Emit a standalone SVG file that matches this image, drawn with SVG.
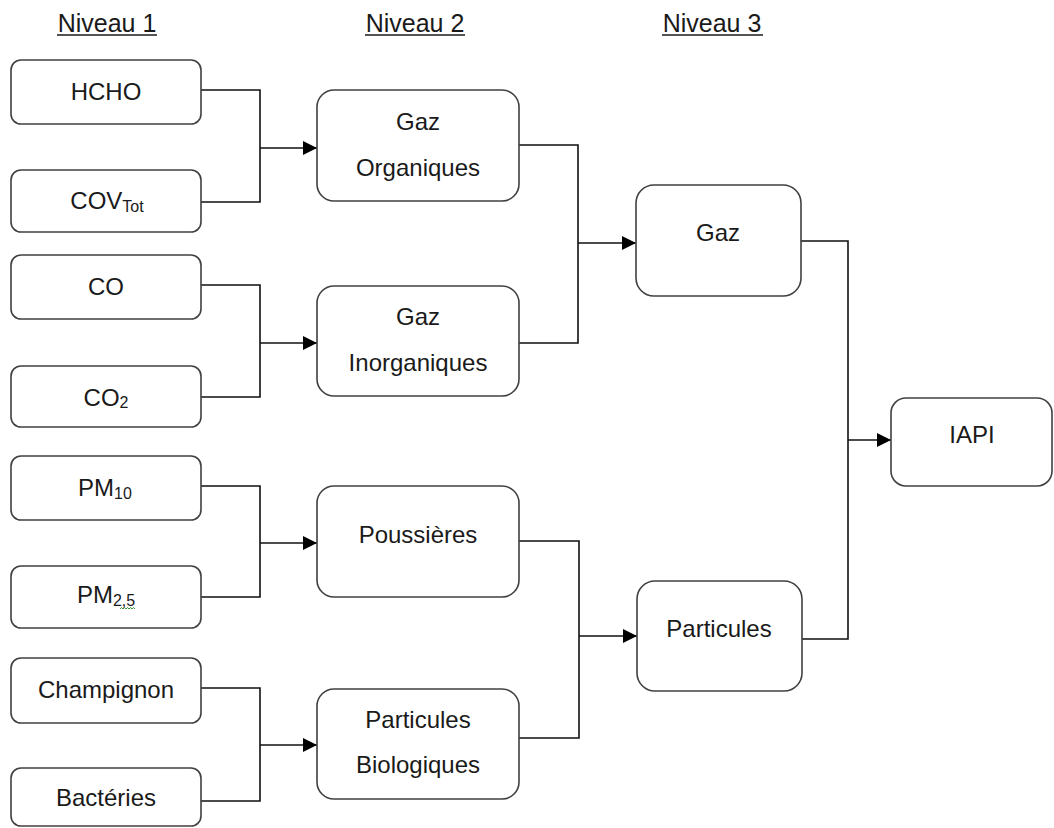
<svg xmlns="http://www.w3.org/2000/svg" width="1054" height="828" viewBox="0 0 1054 828">
  <style>
    .box { fill: #ffffff; stroke: #404040; stroke-width: 1.6; }
    .lbl { font-family: "Liberation Sans", Arial, sans-serif; font-size: 24px; fill: #1a1a1a; text-anchor: middle; }
    .hdr { font-family: "Liberation Sans", Arial, sans-serif; font-size: 25px; fill: #1a1a1a; text-anchor: middle; }
    .sub { font-size: 16px; }
    .ul { stroke: #1a1a1a; stroke-width: 1.4; }
    .wire { fill: none; stroke: #111111; stroke-width: 1.6; }
    .arr { fill: none; stroke: #111111; stroke-width: 1.6; marker-end: url(#ah); }
  </style>
  <defs>
    <marker id="ah" markerUnits="userSpaceOnUse" markerWidth="14" markerHeight="14" refX="14" refY="7" orient="auto">
      <path d="M0,0 L14,7 L0,14 Z" fill="#000000"/>
    </marker>
  </defs>
  <rect width="1054" height="828" fill="#ffffff"/>

  <g id="headers">
    <text class="hdr" x="107" y="32">Niveau 1</text>
    <line class="ul" x1="57" y1="35" x2="157" y2="35"/>
    <text class="hdr" x="415" y="32">Niveau 2</text>
    <line class="ul" x1="365" y1="35" x2="465" y2="35"/>
    <text class="hdr" x="712" y="32">Niveau 3</text>
    <line class="ul" x1="662" y1="35" x2="763" y2="35"/>
  </g>

  <g id="connectors">
    <path class="wire" d="M201,90 H260 V202 H201"/>
    <path class="arr" d="M260,148 H317"/>
    <path class="wire" d="M201,285 H260 V397 H201"/>
    <path class="arr" d="M260,343 H317"/>
    <path class="wire" d="M201,486 H260 V597 H201"/>
    <path class="arr" d="M260,543 H317"/>
    <path class="wire" d="M201,688 H260 V801 H201"/>
    <path class="arr" d="M260,745 H317"/>
    <path class="wire" d="M519,145 H578 V343 H519"/>
    <path class="arr" d="M578,243 H636"/>
    <path class="wire" d="M519,541 H579 V738 H519"/>
    <path class="arr" d="M579,636 H637"/>
    <path class="wire" d="M801,241 H848 V639 H802"/>
    <path class="arr" d="M848,440 H891"/>
  </g>

  <g id="n-hcho">
    <rect class="box" x="11" y="60" width="190" height="64" rx="10"/>
    <text class="lbl" x="106" y="100">HCHO</text>
  </g>
  <g id="n-cov">
    <rect class="box" x="11" y="170" width="190" height="62" rx="10"/>
    <text class="lbl" x="107" y="209">COV<tspan class="sub" dy="3">Tot</tspan></text>
  </g>
  <g id="n-co">
    <rect class="box" x="11" y="255" width="190" height="64" rx="10"/>
    <text class="lbl" x="106" y="295">CO</text>
  </g>
  <g id="n-co2">
    <rect class="box" x="11" y="366" width="190" height="61" rx="10"/>
    <text class="lbl" x="106" y="406">CO<tspan class="sub" dy="2">2</tspan></text>
  </g>
  <g id="n-pm10">
    <rect class="box" x="11" y="456" width="190" height="64" rx="10"/>
    <text class="lbl" x="105" y="496">PM<tspan class="sub" dy="3">10</tspan></text>
  </g>
  <g id="n-pm25">
    <rect class="box" x="11" y="566" width="190" height="62" rx="10"/>
    <text class="lbl" x="106" y="603">PM<tspan class="sub" dy="3">2,5</tspan></text>
    <path d="M120,609 l1.5,-1.5 l1.5,1.5 l1.5,-1.5 l1.5,1.5 l1.5,-1.5 l1.5,1.5 l1.5,-1.5 l1.5,1.5 l1.5,-1.5 l1.5,1.5" fill="none" stroke="#3c9a3c" stroke-width="1"/>
  </g>
  <g id="n-champignon">
    <rect class="box" x="11" y="658" width="190" height="65" rx="10"/>
    <text class="lbl" x="106" y="698">Champignon</text>
  </g>
  <g id="n-bacteries">
    <rect class="box" x="11" y="768" width="190" height="58" rx="10"/>
    <text class="lbl" x="106" y="806">Bactéries</text>
  </g>

  <g id="n-gaz-org">
    <rect class="box" x="317" y="90" width="202" height="111" rx="17"/>
    <text class="lbl" x="418" y="130">Gaz</text>
    <text class="lbl" x="418" y="176">Organiques</text>
  </g>
  <g id="n-gaz-inorg">
    <rect class="box" x="317" y="286" width="202" height="110" rx="17"/>
    <text class="lbl" x="418" y="325">Gaz</text>
    <text class="lbl" x="418" y="371">Inorganiques</text>
  </g>
  <g id="n-poussieres">
    <rect class="box" x="317" y="486" width="202" height="111" rx="17"/>
    <text class="lbl" x="418" y="543">Poussières</text>
  </g>
  <g id="n-part-bio">
    <rect class="box" x="317" y="689" width="202" height="110" rx="17"/>
    <text class="lbl" x="418" y="728">Particules</text>
    <text class="lbl" x="418" y="773">Biologiques</text>
  </g>

  <g id="n-gaz">
    <rect class="box" x="636" y="185" width="165" height="111" rx="18"/>
    <text class="lbl" x="718" y="241">Gaz</text>
  </g>
  <g id="n-particules">
    <rect class="box" x="637" y="581" width="165" height="110" rx="18"/>
    <text class="lbl" x="719" y="637">Particules</text>
  </g>

  <g id="n-iapi">
    <rect class="box" x="891" y="398" width="161" height="88" rx="15"/>
    <text class="lbl" x="972" y="443">IAPI</text>
  </g>
</svg>
